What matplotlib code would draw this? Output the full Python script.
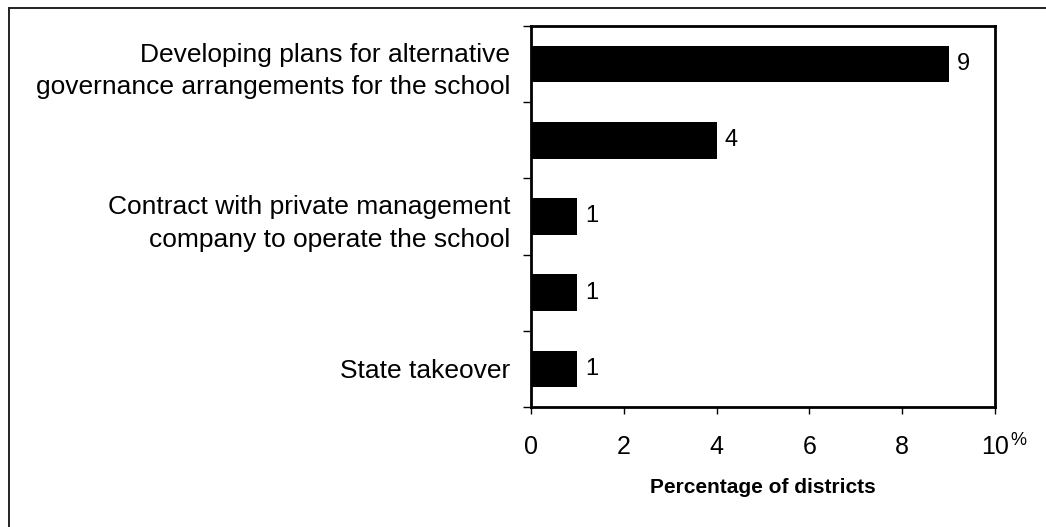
import numpy as np
import matplotlib
matplotlib.use('Agg')
from matplotlib import pyplot as plt
from matplotlib.lines import Line2D

plt.rcParams['font.family'] = ['Liberation Sans', 'DejaVu Sans']

# data, top to bottom
labels = ["Developing plans for alternative\ngovernance arrangements for the school",
          "",
          "Contract with private management\ncompany to operate the school",
          "",
          "State takeover"]
values = [9, 4, 1, 1, 1]
xticks = [0, 2, 4, 6, 8, 10]

fig = plt.figure(figsize=(10.46, 5.27), dpi=100)
ax = fig.add_axes([0.5076, 0.2277, 0.4436, 0.7230])

y = np.arange(len(values))
ax.barh(y, values, height=0.48, color='black')
ax.set_ylim(len(values) - 0.5, -0.5)
ax.set_xlim(0, 10)

# category labels at centres, tick marks at the boundaries
ax.set_yticks(y)
ax.set_yticklabels(labels, fontsize=19, ha='right', linespacing=1.45)
ax.tick_params(axis='y', which='major', length=0, pad=15)
ax.set_yticks(np.arange(-0.5, len(values)), minor=True)
ax.tick_params(axis='y', which='minor', length=6, width=1, direction='out')

ax.set_xticks(xticks)
ax.set_xticklabels([str(t) for t in xticks], fontsize=18)
ax.tick_params(axis='x', length=5, width=1, direction='out', pad=15)
ax.annotate('%', xy=(10, 0), xycoords=('data', 'axes fraction'),
            xytext=(11, -24), textcoords='offset points', fontsize=13,
            ha='left', va='center')
ax.set_xlabel('Percentage of districts', fontsize=15, fontweight='bold', labelpad=14)

for sp in ax.spines.values():
    sp.set_linewidth(2)

for yi, v in zip(y, values):
    ax.annotate(str(v), xy=(v, yi), xytext=(6, 0), textcoords='offset points',
                fontsize=17, ha='left', va='center')

# partial figure border (top and left edges)
fig.add_artist(Line2D([9 / 1046, 1.0], [1 - 8 / 527, 1 - 8 / 527],
                      transform=fig.transFigure, color='#222222', lw=1.4))
fig.add_artist(Line2D([9 / 1046, 9 / 1046], [0.0, 1 - 8 / 527],
                      transform=fig.transFigure, color='#222222', lw=1.4))

fig.savefig('out.png', dpi=100)
